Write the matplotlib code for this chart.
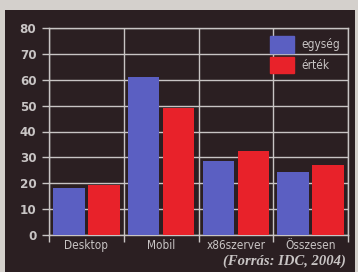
import numpy as np
import matplotlib.pyplot as plt
from matplotlib.patches import Rectangle, Patch

# Adatok
kategoriak = ["Desktop", "Mobil", "x86szerver", "Összesen"]
egyseg = [18, 61, 28.5, 24.5]
ertek = [19.5, 49, 32.5, 27]
y_ticks = [0, 10, 20, 30, 40, 50, 60, 70, 80]

W, H = 358, 272
hatter = "#2b1f22"
kek = "#5b5fc2"
piros = "#e8222a"
szurke = "#c8c4c4"
font = ["DejaVu Sans"]

fig = plt.figure(figsize=(W / 100, H / 100), dpi=100)
fig.patch.set_facecolor("#d4d0cc")
fig.patches.append(Rectangle((5 / W, 0), 350 / W, 262 / H, transform=fig.transFigure,
                             facecolor=hatter, edgecolor="none", zorder=-5))

ax = fig.add_axes([49 / W, 37 / H, 299 / W, 207 / H])
ax.set_facecolor(hatter)

x = np.arange(len(kategoriak))
ax.bar(x - 0.235, egyseg, width=0.42, color=kek, zorder=3, label="egység")
ax.bar(x + 0.235, ertek, width=0.42, color=piros, zorder=3, label="érték")

ax.set_xlim(-0.5, 3.5)
ax.set_ylim(0, 80)
ax.set_yticks(y_ticks)
ax.set_xticks(x)
ax.set_xticks(np.arange(-0.5, 4, 1), minor=True)
ax.set_xticklabels(kategoriak, family=font, fontstretch="condensed", fontsize=8.5, color=szurke)
ax.set_yticklabels(y_ticks, family=font, fontstretch="condensed", fontweight="bold",
                   fontsize=9.5, color=szurke)

ax.grid(axis="y", color=szurke, linewidth=1, zorder=1)
ax.grid(axis="x", which="minor", color=szurke, linewidth=1, zorder=1)
ax.tick_params(axis="y", length=5, width=1, color=szurke, pad=4)
ax.tick_params(axis="x", which="major", length=0, pad=3)
ax.tick_params(axis="x", which="minor", length=5, width=1, color=szurke)

for s in ax.spines.values():
    s.set_color(szurke)
    s.set_linewidth(1)

leg = ax.legend(handles=[Patch(color=kek, label="egység"), Patch(color=piros, label="érték")],
                loc="upper right", frameon=False, handlelength=2.0, handleheight=1.8,
                borderaxespad=0.3, labelspacing=0.3, handletextpad=0.6,
                prop={"family": font, "stretch": "condensed", "size": 8.5})
for t in leg.get_texts():
    t.set_color(szurke)

fig.text(346 / W, 11 / H, "(Forrás: IDC, 2004)", ha="right", va="center",
         family="Liberation Serif", style="italic", fontweight="bold", fontsize=10.5,
         color=szurke)

fig.savefig("out.png", dpi=100, facecolor=fig.get_facecolor())
